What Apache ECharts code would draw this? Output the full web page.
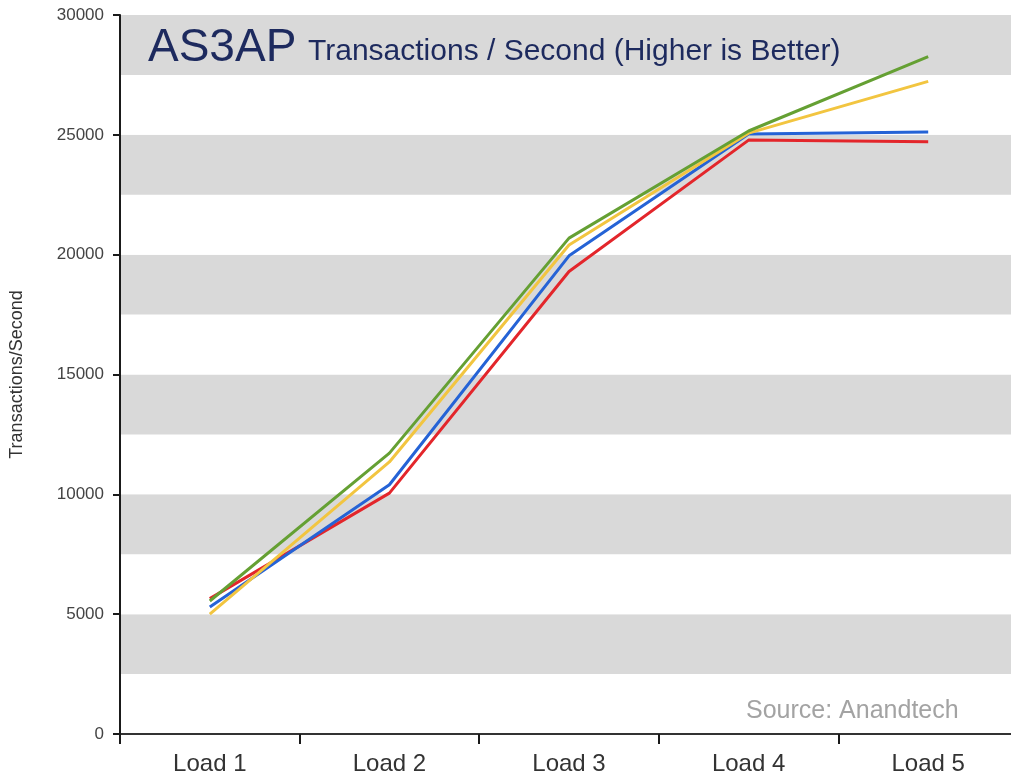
<!DOCTYPE html>
<html>
<head>
<meta charset="utf-8">
<title>AS3AP Transactions / Second</title>
<script src="https://cdn.jsdelivr.net/npm/echarts@6/dist/echarts.min.js"></script>
<style>
  html, body { margin: 0; padding: 0; background: #ffffff; }
  #chart { width: 1011px; height: 778px; }
</style>
</head>
<body>
<div id="chart"></div>
<script>
// Load levels on the x axis
const categories = ['Load 1', 'Load 2', 'Load 3', 'Load 4', 'Load 5'];

// Transactions per second for each configuration
const greenValues  = [5550, 11720, 20690, 25160, 28260];
const yellowValues = [5000, 11350, 20400, 25070, 27230];
const blueValues   = [5300, 10400, 19950, 25030, 25120];
const redValues    = [5650, 10050, 19300, 24780, 24710];

// Y axis range and steps
const yMin = 0;
const yMax = 30000;
const yLabelStep = 5000;
const bandStep = 2500;

const chart = echarts.init(document.getElementById('chart'), null, { renderer: 'canvas' });

const labelFont = '"Liberation Sans", Arial, sans-serif';

function lineSeries(name, data, color) {
  return {
    name: name,
    type: 'line',
    data: data,
    symbol: 'none',
    smooth: false,
    lineStyle: { color: color, width: 3 },
    itemStyle: { color: color },
    xAxisIndex: 0,
    yAxisIndex: 0,
    z: 3
  };
}

chart.setOption({
  backgroundColor: '#ffffff',
  animation: false,
  title: [
    {
      text: 'AS3AP',
      left: 148,
      top: 25,
      padding: 0,
      textStyle: { fontFamily: labelFont, fontSize: 46, fontWeight: 'normal', color: '#1d2a5e' }
    },
    {
      text: 'Transactions / Second (Higher is Better)',
      left: 308,
      top: 37,
      padding: 0,
      textStyle: { fontFamily: labelFont, fontSize: 30, fontWeight: 'normal', color: '#1d2a5e' }
    },
    {
      text: 'Source: Anandtech',
      left: 746,
      top: 699,
      padding: 0,
      textStyle: { fontFamily: labelFont, fontSize: 25, fontWeight: 'normal', color: '#a3a3a3' }
    }
  ],
  grid: { left: 120, top: 15, width: 898, height: 719, containLabel: false, outerBoundsMode: 'none' },
  xAxis: [
    {
      type: 'category',
      data: categories,
      boundaryGap: true,
      position: 'bottom',
      axisLine: { show: true, lineStyle: { color: '#1a1a1a', width: 2 } },
      axisTick: { show: true, alignWithLabel: false, length: 10, lineStyle: { color: '#1a1a1a', width: 2 } },
      axisLabel: { fontFamily: labelFont, fontSize: 24, color: '#333333', margin: 18 },
      splitLine: { show: false }
    },
    {
      type: 'category',
      data: categories,
      position: 'top',
      axisLine: { show: true, lineStyle: { color: '#333333', width: 2 } },
      axisTick: { show: false },
      axisLabel: { show: false },
      splitLine: { show: false }
    }
  ],
  yAxis: [
    {
      type: 'value',
      min: yMin,
      max: yMax,
      interval: yLabelStep,
      name: 'Transactions/Second',
      nameLocation: 'middle',
      nameRotate: 90,
      nameGap: 94,
      nameTextStyle: { fontFamily: labelFont, fontSize: 18, color: '#333333' },
      axisLine: { show: true, lineStyle: { color: '#1a1a1a', width: 2 } },
      axisTick: { show: true, length: 7, lineStyle: { color: '#1a1a1a', width: 2 } },
      axisLabel: {
        fontFamily: labelFont,
        fontSize: 17,
        color: '#444444',
        margin: 16,
        formatter: function (v) { return String(v); }
      },
      splitLine: { show: false },
      splitArea: { show: false },
      z: 4
    },
    {
      type: 'value',
      min: yMin,
      max: yMax,
      interval: bandStep,
      position: 'left',
      axisLine: { show: false },
      axisTick: { show: false },
      axisLabel: { show: false },
      splitLine: { show: false },
      splitArea: { show: true, areaStyle: { color: ['#ffffff', '#d9d9d9'] } }
    }
  ],
  series: [
    lineSeries('Red', redValues, '#e3262b'),
    lineSeries('Blue', blueValues, '#2563d6'),
    lineSeries('Yellow', yellowValues, '#f2c540'),
    lineSeries('Green', greenValues, '#65a033')
  ]
});
</script>
</body>
</html>
